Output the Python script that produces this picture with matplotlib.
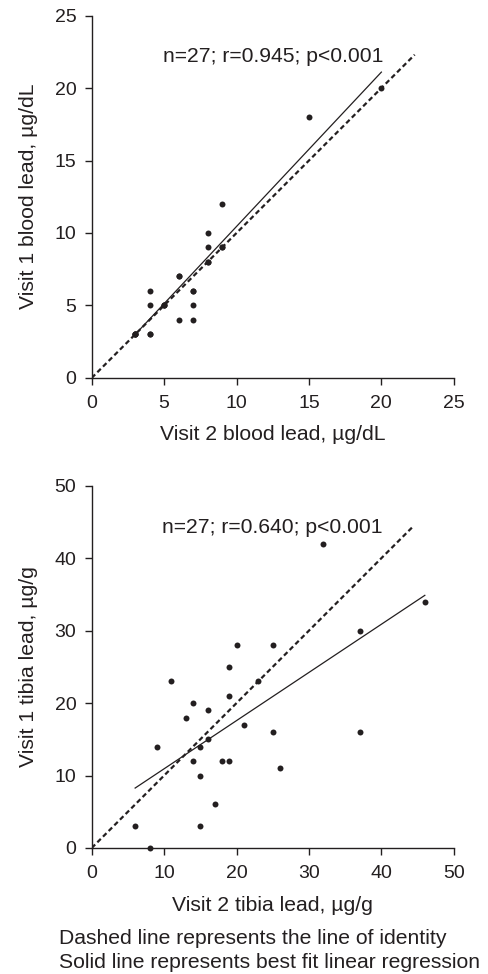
import numpy as np
import matplotlib
matplotlib.use("Agg")
import matplotlib.pyplot as plt

plt.rcParams['font.family'] = ['Liberation Sans', 'DejaVu Sans']

# --- Data: blood lead (top panel) ---
blood_v2 = [3, 3, 3, 4, 4, 4, 5, 5, 6, 6, 7, 7, 7, 8, 8, 8, 8, 9, 9, 9, 15, 20, 4, 5, 6, 7, 3]
blood_v1 = [3, 3, 3, 3, 5, 6, 5, 5, 7, 4, 6, 5, 4, 8, 8, 9, 10, 9, 9, 12, 18, 20, 3, 5, 7, 6, 3]
blood_fit = (-0.2, 1.065)        # intercept, slope
blood_fit_x = (3, 20)
blood_ident_max = 22.3
blood_stats = "n=27; r=0.945; p<0.001"

# --- Data: tibia lead (bottom panel) ---
tibia_v2 = [6, 8, 9, 11, 13, 14, 14, 15, 15, 15, 16, 16, 17, 18, 19, 19, 19,
            20, 21, 23, 25, 25, 26, 32, 37, 37, 46]
tibia_v1 = [3, 0, 14, 23, 18, 20, 12, 14, 10, 3, 19, 15, 6, 12, 12, 21, 25,
            28, 17, 23, 28, 16, 11, 42, 30, 16, 34]
tibia_fit = (4.28, 0.665)
tibia_fit_x = (6, 46)
tibia_ident_max = 44.3
tibia_stats = "n=27; r=0.640; p<0.001"

TICK_FS = 14
FS = 15.25
INK = "#231f20"

fig = plt.figure(figsize=(4.89, 9.74), dpi=100)
ax1 = fig.add_axes([0.1875, 0.612, 0.7405, 0.372])
ax2 = fig.add_axes([0.1875, 0.1294, 0.7405, 0.3719])


def draw_panel(ax, x, y, fit, fit_x, ident_max, stats, lim, step, xlabel, ylabel, stats_xy):
    ax.plot([0, ident_max], [0, ident_max], linestyle=(0, (2.2, 1.4)), color=INK, lw=1.6)
    fx = np.array(fit_x, dtype=float)
    ax.plot(fx, fit[0] + fit[1] * fx, color=INK, lw=0.9)
    ax.plot(x, y, 'o', color=INK, ms=4.3, mec='none', clip_on=False)
    ax.set_xlim(0, lim)
    ax.set_ylim(0, lim)
    ticks = np.arange(0, lim + 1, step)
    ax.set_xticks(ticks)
    ax.set_yticks(ticks)
    for side in ['top', 'right']:
        ax.spines[side].set_visible(False)
    for side in ['left', 'bottom']:
        ax.spines[side].set_color(INK)
        ax.spines[side].set_linewidth(1.0)
    ax.tick_params(direction='out', length=5, width=1.0, color=INK,
                   labelsize=TICK_FS, labelcolor=INK, pad=7.5)
    ax.tick_params(axis='y', pad=6)
    ax.set_xlabel(xlabel, fontsize=FS, color=INK, labelpad=9.5)
    ax.set_ylabel(ylabel, fontsize=FS, color=INK, labelpad=12)
    ax.text(stats_xy[0], stats_xy[1], stats, ha='center', va='center', fontsize=FS, color=INK)


draw_panel(ax1, blood_v2, blood_v1, blood_fit, blood_fit_x, blood_ident_max, blood_stats,
           25, 5, "Visit 2 blood lead, µg/dL", "Visit 1 blood lead, µg/dL", (12.5, 22.2))
draw_panel(ax2, tibia_v2, tibia_v1, tibia_fit, tibia_fit_x, tibia_ident_max, tibia_stats,
           50, 10, "Visit 2 tibia lead, µg/g", "Visit 1 tibia lead, µg/g", (25.0, 44.3))

fig.text(59 / 489, 1 - 938 / 974, "Dashed line represents the line of identity",
         ha='left', va='center', fontsize=FS, color=INK)
fig.text(59 / 489, 1 - 963 / 974, "Solid line represents best fit linear regression",
         ha='left', va='center', fontsize=FS, color=INK)

fig.savefig("out.png", dpi=100)
